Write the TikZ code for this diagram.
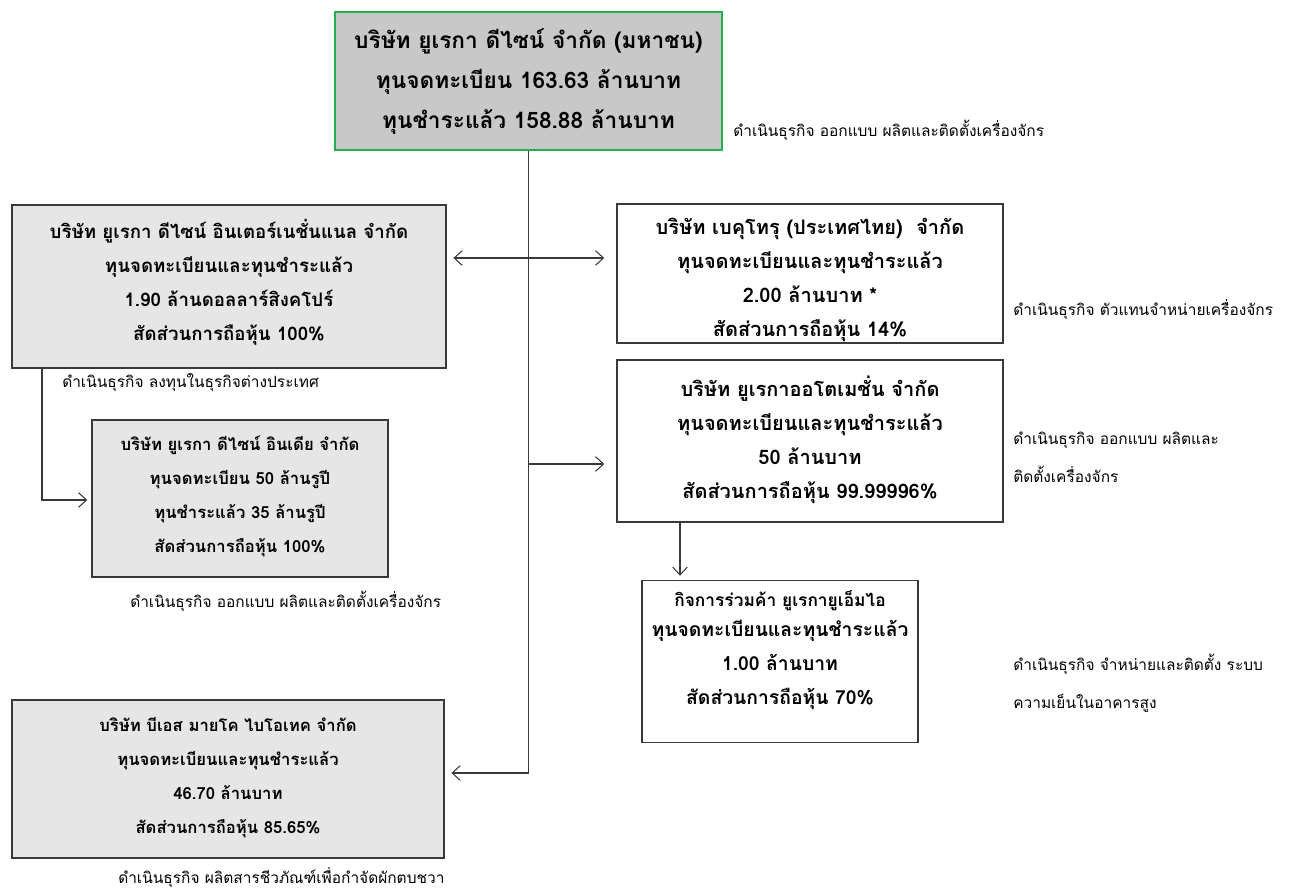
\documentclass[tikz,border=0pt]{standalone}
\usepackage{fontspec}
\setmainfont[Script=Thai]{Loma}
\usetikzlibrary{arrows.meta}
\definecolor{boxline}{HTML}{3A3A3A}
\definecolor{topfill}{HTML}{C8C8C8}
\definecolor{subfill}{HTML}{E6E6E6}
\definecolor{topline}{HTML}{22B14C}
\begin{document}
\begin{tikzpicture}[x=0.75pt,y=-0.75pt,
    company/.style={draw=boxline,line width=1.1pt,align=center,inner sep=0pt,
      font=\bfseries\fontsize{12.5pt}{25.5pt}\selectfont},
    owned/.style={company,fill=subfill},
    big/.style={font=\bfseries\fontsize{#1}{25.5pt}\selectfont},
    desc/.style={anchor=west,align=left,inner sep=0pt,
      font=\fontsize{11.6pt}{28.5pt}\selectfont},
    arr/.style={draw=boxline,line width=0.8pt,-{Straight Barb[length=6pt,width=11pt]}},
    link/.style={draw=boxline,line width=0.8pt}]
\useasboundingbox (0,0) rectangle (1291,890);
\node[company,fill=topfill,draw=topline,minimum width=290pt,minimum height=103.5pt,
      font=\bfseries\fontsize{17pt}{30pt}\selectfont] (eureka) at (528.5,81)
  {บริษัท ยูเรกา ดีไซน์ จำกัด (มหาชน)\\ทุนจดทะเบียน 163.63 ล้านบาท\\ทุนชำระแล้ว 158.88 ล้านบาท};
\node[owned,big=14pt,minimum width=325.5pt,minimum height=122.25pt] (intl) at (229,286.5)
  {บริษัท ยูเรกา ดีไซน์ อินเตอร์เนชั่นแนล จำกัด\\ทุนจดทะเบียนและทุนชำระแล้ว\\1.90 ล้านดอลลาร์สิงคโปร์\\สัดส่วนการถือหุ้น 100\%\\[-15pt]};
\node[owned,minimum width=222pt,minimum height=117.75pt] (india) at (240,498.5)
  {บริษัท ยูเรกา ดีไซน์ อินเดีย จำกัด\\ทุนจดทะเบียน 50 ล้านรูปี\\ทุนชำระแล้ว 35 ล้านรูปี\\สัดส่วนการถือหุ้น 100\%\\[-19pt]};
\node[owned,minimum width=324pt,minimum height=118.5pt] (bsmyco) at (228,779)
  {บริษัท บีเอส มายโค ไบโอเทค จำกัด\\ทุนจดทะเบียนและทุนชำระแล้ว\\46.70 ล้านบาท\\สัดส่วนการถือหุ้น 85.65\%\\[-20pt]};
\node[company,big=15pt,minimum width=289.5pt,minimum height=104.25pt] (bekutoru) at (810,273.5)
  {\rule{0pt}{22pt}บริษัท เบคุโทรุ (ประเทศไทย) \ จำกัด\\ทุนจดทะเบียนและทุนชำระแล้ว\\2.00 ล้านบาท *\\สัดส่วนการถือหุ้น 14\%};
\node[company,big=15pt,minimum width=289.5pt,minimum height=121.5pt] (auto) at (810,441)
  {บริษัท ยูเรกาออโตเมชั่น จำกัด\\ทุนจดทะเบียนและทุนชำระแล้ว\\50 ล้านบาท\\สัดส่วนการถือหุ้น 99.99996\%\\[-20pt]};
\node[company,big=14.5pt,minimum width=207pt,minimum height=121.5pt] (jv) at (780,661.5)
  {{\fontsize{13pt}{25.5pt}\selectfont กิจการร่วมค้า ยูเรกายูเอ็มไอ}\\[-3pt]ทุนจดทะเบียนและทุนชำระแล้ว\\1.00 ล้านบาท\\สัดส่วนการถือหุ้น 70\%\\[-4pt]};
\node[desc] (eurekadesc) at (733,130) {ดำเนินธุรกิจ ออกแบบ ผลิตและติดตั้งเครื่องจักร};
\node[desc] (intldesc) at (62,383) {ดำเนินธุรกิจ ลงทุนในธุรกิจต่างประเทศ};
\node[desc] (indiadesc) at (130,601) {ดำเนินธุรกิจ ออกแบบ ผลิตและติดตั้งเครื่องจักร};
\node[desc] (bsmycodesc) at (118,878) {ดำเนินธุรกิจ ผลิตสารชีวภัณฑ์เพื่อกำจัดผักตบชวา};
\node[desc] (bekutorudesc) at (1013,310) {ดำเนินธุรกิจ ตัวแทนจำหน่ายเครื่องจักร};
\node[desc] (autodesc) at (1013,457) {ดำเนินธุรกิจ ออกแบบ ผลิตและ\\ติดตั้งเครื่องจักร};
\node[desc] (jvdesc) at (1013,683) {ดำเนินธุรกิจ จำหน่ายและติดตั้ง ระบบ\\ความเย็นในอาคารสูง};
\coordinate (trunkA) at (528.5,258);
\coordinate (trunkB) at (528.5,464);
\coordinate (trunkC) at (528.5,773);
\coordinate (bend) at (42,500);
\draw[link] (eureka.south) -- (trunkC);
\draw[arr,shorten >=5pt] (trunkA) -- (intl.east |- trunkA);
\draw[arr,shorten >=9pt] (trunkA) -- (bekutoru.west |- trunkA);
\draw[arr,shorten >=9pt] (trunkB) -- (auto.west |- trunkB);
\draw[arr,shorten >=5pt] (trunkC) -- (bsmyco.east |- trunkC);
\draw[arr,shorten >=3pt] (intl.south -| bend) -- (bend) -- (india.west |- bend);
\draw[arr,shorten >=3pt] (auto.south -| 680,0) -- (jv.north -| 680,0);
\end{tikzpicture}
\end{document}
